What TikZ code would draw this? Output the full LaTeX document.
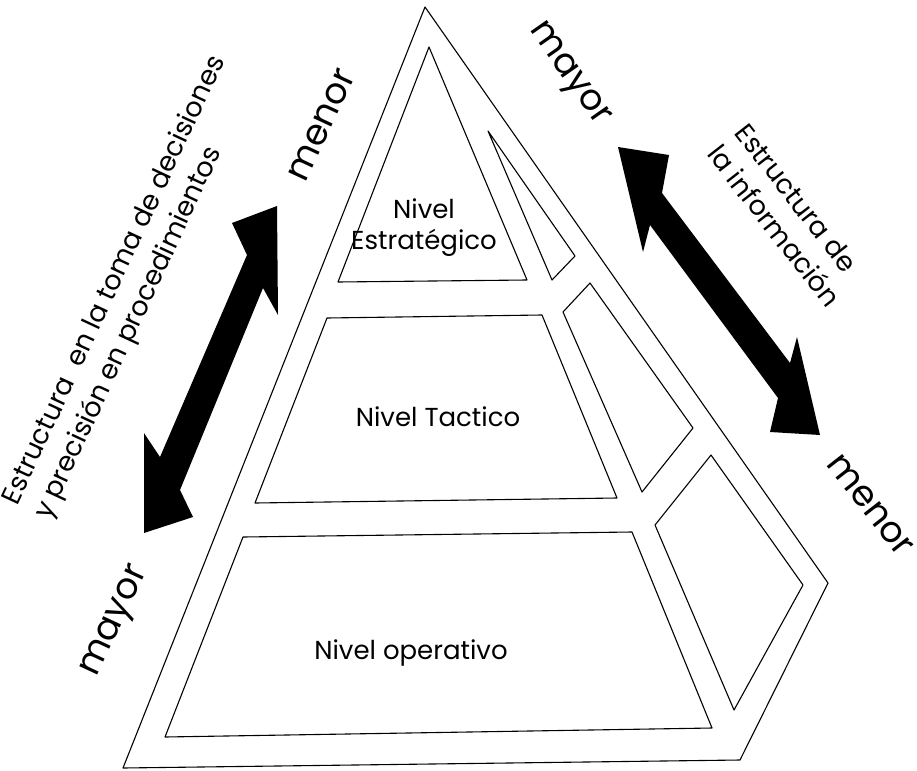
\documentclass[tikz,border=0pt]{standalone}
\usepackage{fontspec}
\setmainfont{Poppins}
\begin{document}
\begin{tikzpicture}[x=1pt,y=-1pt,
  edge/.style={draw=black, line width=1.1pt, line join=round},
  lvl/.style={font=\fontsize{26}{31}\selectfont, align=center, inner sep=0pt},
  side/.style={font=\fontsize{36}{40}\selectfont, inner sep=0pt},
  note/.style={font=\fontsize{27}{35}\selectfont, align=left, inner sep=0pt},
  bigarrow/.style={fill=black, draw=none}]
\useasboundingbox (0,0) rectangle (917,770);

% outer pyramid
\coordinate (apex) at (425,7);
\coordinate (bl) at (123,768);
\coordinate (br) at (740,760);
\coordinate (rt) at (828,583);
\draw[edge] (apex) -- (rt) -- (br) -- (bl) -- cycle;

% front faces
\draw[edge] (429,47) -- (527,280) -- (338,282) -- cycle;
\draw[edge] (327,318) -- (542,315) -- (617,498) -- (255,503) -- cycle;
\draw[edge] (243,537) -- (632,532) -- (712,728) -- (165,737) -- cycle;

% side faces
\draw[edge] (488,131) -- (575,256) -- (552,280) -- cycle;
\draw[edge] (590,283) -- (693,428) -- (642,492) -- (563,312) -- cycle;
\draw[edge] (711,455) -- (803,585) -- (734,710) -- (655,525) -- cycle;

% level labels
\node[lvl] (estr) at (424,228) {Nivel\\Estratégico};
\node[lvl] (tact) at (438,417) {Nivel Tactico};
\node[lvl] (oper) at (411,653) {Nivel operativo};

% left double arrow
\fill[bigarrow] (277,206) -- (232,223) -- (247,255) -- (160,457) -- (144,433)
  -- (144,533) -- (193,517) -- (180,490) -- (263,288) -- (278,315) -- cycle;

% right double arrow
\fill[bigarrow] (618,147) -- (669,155) -- (662,193) -- (790,363) -- (797,337)
  -- (820,435) -- (770,432) -- (778,398) -- (650,225) -- (643,252) -- cycle;

% side labels
\node[side, rotate=65] (lmenor) at (322,125) {menor};
\node[side, rotate=65] (lmayor) at (117,622) {mayor};
\node[side, rotate=-55] (rmayor) at (568,75) {mayor};
\node[side, rotate=-52] (rmenor) at (870,505) {menor};

\node[note, rotate=65] (lnote) at (131,288)
  {Estructura \ en la toma de decisiones\\y precisión en procedimientos};
\node[note, rotate=-52] (rnote) at (788,215)
  {Estructura de\\la información};
\end{tikzpicture}
\end{document}
